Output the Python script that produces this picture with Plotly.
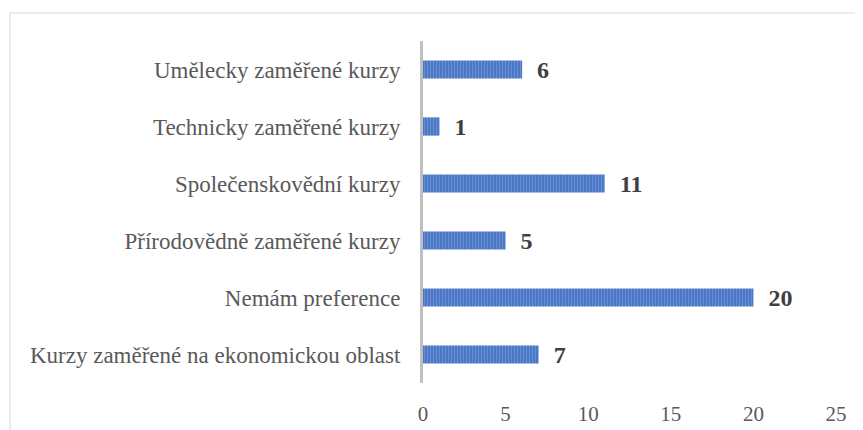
import plotly.graph_objects as go

categories = [
    "Umělecky zaměřené kurzy",
    "Technicky zaměřené kurzy",
    "Společenskovědní kurzy",
    "Přírodovědně zaměřené kurzy",
    "Nemám preference",
    "Kurzy zaměřené na ekonomickou oblast",
]
values = [6, 1, 11, 5, 20, 7]
x_ticks = [0, 5, 10, 15, 20, 25]

fig = go.Figure()
fig.add_trace(go.Bar(
    y=categories,
    x=values,
    orientation="h",
    width=0.32,
    marker=dict(
        color="#4472C4",
        line=dict(width=0),
        pattern=dict(shape="|", fgcolor="#8FABE0", bgcolor="#4472C4", size=3, solidity=0.45),
    ),
    text=values,
    texttemplate="\u00a0\u00a0%{x}",
    textposition="outside",
    constraintext="none",
    textfont=dict(family="Liberation Serif", size=24, color="#404040", weight="bold"),
    cliponaxis=False,
    hoverinfo="skip",
))

fig.update_layout(
    width=863,
    height=430,
    paper_bgcolor="white",
    plot_bgcolor="white",
    margin=dict(l=415, r=35, t=33, b=55),
    showlegend=False,
    font=dict(family="Liberation Serif", size=21, color="#595959"),
    xaxis=dict(
        range=[0, 25],
        tickvals=x_ticks,
        showgrid=False,
        zeroline=False,
        showline=False,
        ticks="",
        ticklabelstandoff=16,
        tickfont=dict(size=21, color="#595959"),
    ),
    yaxis=dict(
        autorange="reversed",
        showgrid=False,
        showline=True,
        linecolor="#BFBFBF",
        linewidth=3,
        ticks="",
        ticklabelstandoff=15,
        tickfont=dict(size=23, color="#595959"),
    ),
    shapes=[dict(
        type="rect", xref="paper", yref="paper",
        x0=(2 - 415) / 413, x1=1.3, y0=-0.3, y1=(375 - 5) / 342,
        line=dict(color="#D9D9D9", width=1), fillcolor="rgba(0,0,0,0)", layer="below",
    )],
)

fig.write_html("out.html")
